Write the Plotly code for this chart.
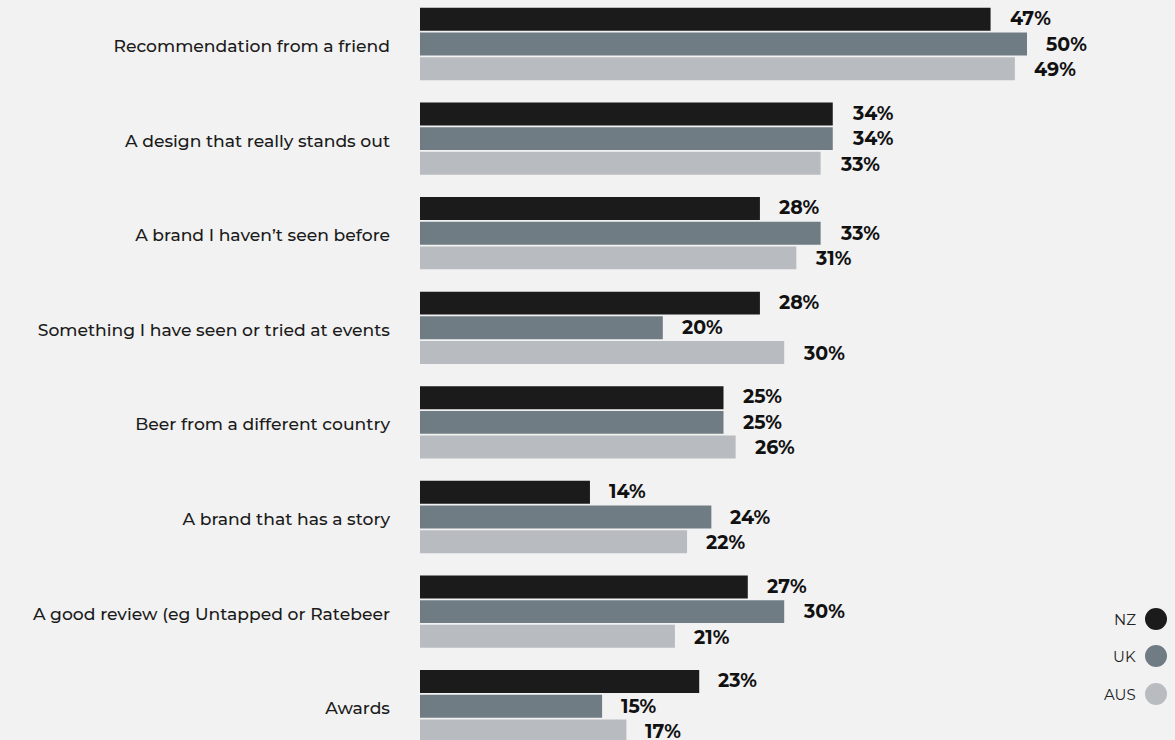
import plotly.graph_objects as go

# Survey: what makes you try a new beer?
categories = [
    "Recommendation from a friend",
    "A design that really stands out",
    "A brand I haven\u2019t seen before",
    "Something I have seen or tried at events",
    "Beer from a different country",
    "A brand that has a story",
    "A good review (eg Untapped or Ratebeer",
    "Awards",
]
nz = [47, 34, 28, 28, 25, 14, 27, 23]
uk = [50, 34, 33, 20, 25, 24, 30, 15]
aus = [49, 33, 31, 30, 26, 22, 21, 17]
series_names = ["NZ", "UK", "AUS"]
series_colors = ["#1b1b1b", "#707c83", "#b8bbbf"]

W, H = 1175, 740
ML, MR = 420, 100
plot_w = W - ML - MR
px_per_pct = 12.14
bg = "#f2f2f2"
font_family = "Montserrat, Open Sans, sans-serif"

fig = go.Figure()
for name, vals, col in zip(series_names, [nz, uk, aus], series_colors):
    fig.add_trace(go.Bar(
        y=categories, x=vals, orientation="h", name=name,
        marker=dict(color=col, line=dict(width=0)),
        showlegend=False, hoverinfo="x+y",
    ))

# value labels placed just past the end of each bar
offsets = [-25.5, 0, 25.5]
for vals, dy in zip([nz, uk, aus], offsets):
    for cat, v in zip(categories, vals):
        fig.add_annotation(
            x=v, y=cat, text=f"<b>{v}%</b>", showarrow=False,
            xanchor="left", yanchor="middle", xshift=17, yshift=-dy,
            font=dict(family=font_family, size=19, color="#111111"),
        )

# legend drawn on the right: label then dot
legend_y = [619, 656, 694]
for name, col, py in zip(series_names, series_colors, legend_y):
    cx = (1156 - ML) / plot_w
    cy = 1 - py / H
    r = 11
    fig.add_shape(
        type="circle", xref="paper", yref="paper",
        x0=cx - r / plot_w, x1=cx + r / plot_w,
        y0=cy - r / H, y1=cy + r / H,
        fillcolor=col, line=dict(width=0),
    )
    fig.add_annotation(
        xref="paper", yref="paper", x=(1138 - ML) / plot_w, y=cy,
        text=name, showarrow=False, xanchor="right", yanchor="middle",
        font=dict(family=font_family, size=15, color="#222222"),
    )

n = len(categories)
pitch = 94.6
first_center = 44
top_idx = -first_center / pitch
bot_idx = (H - first_center) / pitch

fig.update_layout(
    width=W, height=H,
    paper_bgcolor=bg, plot_bgcolor=bg,
    margin=dict(l=ML, r=MR, t=0, b=0),
    barmode="group", bargap=0.218, bargroupgap=0.07,
    xaxis=dict(range=[0, plot_w / px_per_pct], visible=False, fixedrange=True),
    yaxis=dict(
        range=[bot_idx, top_idx], categoryorder="array", categoryarray=categories,
        showgrid=False, zeroline=False, showline=False, ticks="",
        ticklabelstandoff=29, ticklabelshift=-2,
        tickfont=dict(family=font_family, size=17.2, color="#1b1b1b", weight=500),
    ),
)

fig.write_html("out.html")
